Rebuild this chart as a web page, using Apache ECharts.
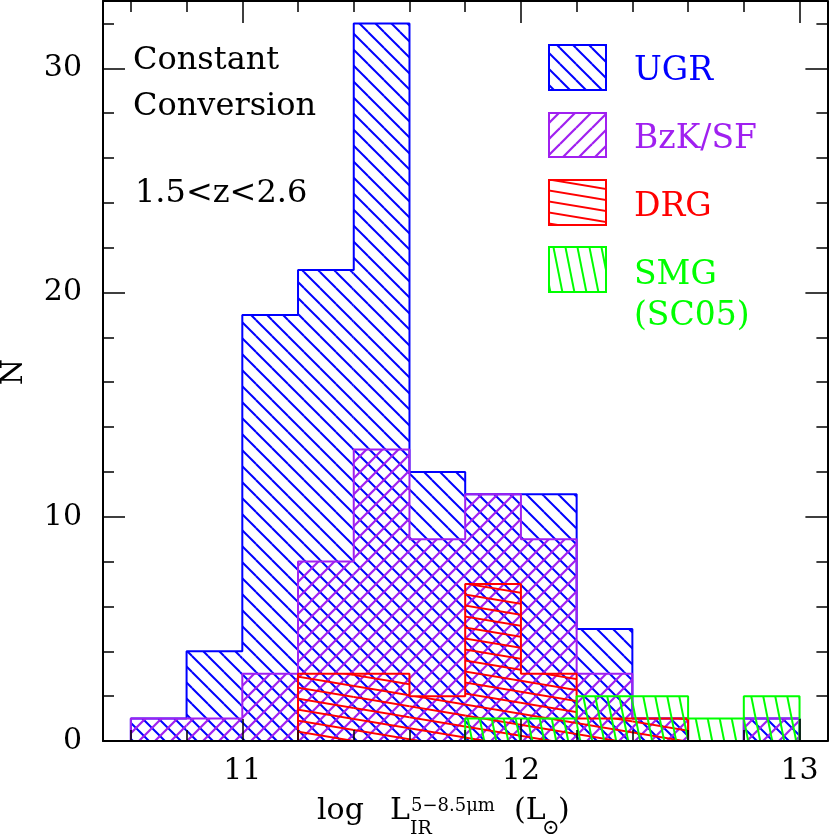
<!DOCTYPE html>
<html>
<head>
<meta charset="utf-8">
<script src="https://cdn.jsdelivr.net/npm/echarts@6/dist/echarts.min.js"></script>
<style>
html, body { margin: 0; padding: 0; background: #fff; }
#main { width: 830px; height: 839px; }
</style>
</head>
<body>
<div id="main"></div>
<script>
// histogram bins (left edges), width 0.2 dex
const binStarts = [10.6, 10.8, 11.0, 11.2, 11.4, 11.6, 11.8, 12.0, 12.2, 12.4, 12.6, 12.8];
const binWidth = 0.2;
const ugrCounts = [1, 4, 19, 21, 32, 12, 11, 11, 5, 1, 0, 1];
const bzkCounts = [1, 1, 3, 8, 13, 9, 11, 9, 3, 1, 0, 1];
const drgCounts = [0, 0, 0, 3, 3, 2, 7, 3, 1, 1, 0, 0];
const smgCounts = [0, 0, 0, 0, 0, 0, 1, 1, 2, 2, 1, 2];

const xMajorTicks = [11, 12, 13];
const xMinorTicks = [10.6, 10.8, 11.0, 11.2, 11.4, 11.6, 11.8, 12.0, 12.2, 12.4, 12.6, 12.8, 13.0];
const yMajorTicks = [0, 10, 20, 30];
const yMinorTicks = [0, 2, 4, 6, 8, 10, 12, 14, 16, 18, 20, 22, 24, 26, 28, 30, 32];

const BLUE = '#0000ff', PURPLE = '#a020f0', RED = '#ff0000', GREEN = '#00ff00';
const FONT = '"DejaVu Serif", "Liberation Serif", serif';

// tile with one hatch line, repeated so the pattern is seamless
function hatch(w, h, color, lw, x0, y0, x1, y1) {
  const c = document.createElement('canvas');
  c.width = w; c.height = h;
  const ctx = c.getContext('2d');
  ctx.strokeStyle = color;
  ctx.lineWidth = lw;
  for (let i = -1; i <= 1; i++) {
    for (let j = -1; j <= 1; j++) {
      ctx.beginPath();
      ctx.moveTo(x0 + i * w, y0 + j * h);
      ctx.lineTo(x1 + i * w, y1 + j * h);
      ctx.stroke();
    }
  }
  return { image: c, repeat: 'repeat' };
}

const ugrHatch = hatch(16, 16, BLUE, 2, 0, 0, 16, 16);
const bzkHatch = hatch(16, 16, PURPLE, 2.2, 0, 16, 16, 0);
const drgHatch = hatch(66, 11, RED, 1.9, 0, 0, 66, 11);
const smgHatch = hatch(12, 60, GREEN, 2, 0, 0, 12, 60);

function fillSeries(name, counts, pattern, z) {
  return {
    type: 'custom',
    name: name,
    z: z,
    silent: true,
    data: binStarts.map((x, i) => [x, x + binWidth, counts[i]]),
    encode: { x: [0, 1], y: 2 },
    renderItem: function (params, api) {
      const v = api.value(2);
      if (!v) return;
      const a = api.coord([api.value(0), v]);
      const b = api.coord([api.value(1), 0]);
      return {
        type: 'rect',
        shape: { x: a[0], y: a[1], width: b[0] - a[0], height: b[1] - a[1] },
        style: { fill: pattern }
      };
    }
  };
}

function outlineSeries(name, counts, color, z) {
  const pts = [[binStarts[0], 0]];
  counts.forEach((v, i) => {
    pts.push([binStarts[i], v], [binStarts[i] + binWidth, v]);
  });
  pts.push([binStarts[binStarts.length - 1] + binWidth, 0]);
  return {
    type: 'line',
    name: name,
    z: z,
    silent: true,
    data: pts,
    showSymbol: false,
    symbol: 'none',
    lineStyle: { color: color, width: 2 }
  };
}

function xAx(pos, ticks, len, withLine, withLabels) {
  return {
    type: 'value', position: pos, min: 10.5, max: 13.1, z: 20,
    axisLine: { show: withLine, onZero: false, lineStyle: { color: '#000', width: 2 } },
    axisTick: { show: true, inside: true, length: len, customValues: ticks, lineStyle: { color: '#000', width: 1.5 } },
    axisLabel: {
      show: withLabels, customValues: xMajorTicks, margin: 15,
      fontSize: 30, fontFamily: FONT, color: '#000'
    },
    splitLine: { show: false }
  };
}

function yAx(pos, ticks, len, withLine, withLabels) {
  return {
    type: 'value', position: pos, min: 0, max: 33, z: 20,
    axisLine: { show: withLine, onZero: false, lineStyle: { color: '#000', width: 2 } },
    axisTick: { show: true, inside: true, length: len, customValues: ticks, lineStyle: { color: '#000', width: 1.5 } },
    axisLabel: {
      show: withLabels, customValues: yMajorTicks, margin: 21,
      fontSize: 30, fontFamily: FONT, color: '#000'
    },
    splitLine: { show: false }
  };
}

function txt(text, x, y, size, color, extra) {
  return Object.assign({
    type: 'text', x: x, y: y, silent: true, z: 30,
    style: {
      text: text, fill: color, font: size + 'px ' + FONT,
      align: 'left', verticalAlign: 'middle', textAlign: 'left', textVerticalAlign: 'middle'
    }
  }, extra || {});
}

function legendBox(y, h, pattern, color) {
  return {
    type: 'rect', silent: true, z: 30,
    shape: { x: 549, y: y, width: 57, height: h },
    style: { fill: pattern, stroke: color, lineWidth: 2 }
  };
}

const myChart = echarts.init(document.getElementById('main'));
myChart.setOption({
  animation: false,
  backgroundColor: '#fff',
  grid: { left: 103, right: 2.6, top: 1, bottom: 98, containLabel: false },
  xAxis: [
    xAx('bottom', xMajorTicks, 22, true, true),
    xAx('bottom', xMinorTicks, 11, false, false),
    xAx('top', xMajorTicks, 22, true, false),
    xAx('top', xMinorTicks, 11, false, false)
  ],
  yAxis: [
    yAx('left', yMajorTicks, 22, true, true),
    yAx('left', yMinorTicks, 11, false, false),
    yAx('right', yMajorTicks, 22, true, false),
    yAx('right', yMinorTicks, 11, false, false)
  ],
  series: [
    fillSeries('UGR', ugrCounts, ugrHatch, 2),
    outlineSeries('UGR', ugrCounts, BLUE, 3),
    fillSeries('BzK/SF', bzkCounts, bzkHatch, 4),
    outlineSeries('BzK/SF', bzkCounts, PURPLE, 5),
    fillSeries('DRG', drgCounts, drgHatch, 6),
    outlineSeries('DRG', drgCounts, RED, 7),
    fillSeries('SMG', smgCounts, smgHatch, 8),
    outlineSeries('SMG', smgCounts, GREEN, 9)
  ],
  graphic: [
    txt('Constant', 133, 61, 32, '#000'),
    txt('Conversion', 133, 107, 32, '#000'),
    txt('1.5<z<2.6', 135, 194, 32, '#000'),

    legendBox(45, 45, ugrHatch, BLUE),
    legendBox(113, 44, bzkHatch, PURPLE),
    legendBox(180, 45, drgHatch, RED),
    legendBox(247, 45, smgHatch, GREEN),
    txt('UGR', 634, 71, 33, BLUE),
    txt('BzK/SF', 634, 139, 33, PURPLE),
    txt('DRG', 634, 207, 33, RED),
    txt('SMG', 634, 275, 33, GREEN),
    txt('(SC05)', 634, 316, 33, GREEN),

    txt('N', 14, 372, 30, '#000', { rotation: Math.PI / 2, style: {
      text: 'N', fill: '#000', font: '30px ' + FONT,
      align: 'center', verticalAlign: 'middle', textAlign: 'center', textVerticalAlign: 'middle'
    } }),

    txt('log', 317, 811, 30, '#000'),
    txt('L', 390, 811, 30, '#000'),
    txt('5\u22128.5\u03bcm', 411, 806, 18, '#000'),
    txt('IR', 410, 829, 19, '#000'),
    txt('(L', 514, 811, 30, '#000'),
    txt('\u2299', 542, 829, 21, '#000'),
    txt(')', 558, 811, 30, '#000')
  ]
});
</script>
</body>
</html>
